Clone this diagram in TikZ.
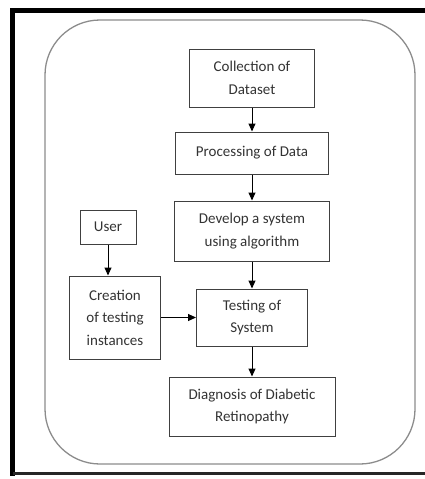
\documentclass[tikz,border=0pt]{standalone}
\usepackage{fontspec}
\setmainfont{Carlito}
\usepackage{tikz}
\usetikzlibrary{positioning}
\usetikzlibrary{arrows.meta}

\begin{document}
\begin{tikzpicture}[x=1pt, y=-1pt,
    stage/.style={draw=black!75, line width=1pt, align=center, text=black!80,
        font=\fontsize{15}{22.5}\selectfont, inner sep=2pt},
    flow/.style={line width=1pt, -{Triangle[length=8pt,width=7pt]}}]
    \useasboundingbox (0,0) rectangle (425,479);
    % frame and panel
    \draw[line width=5pt] (425,10) -- (12.5,10) -- (12.5,476);
    \draw[line width=3pt, black!85] (12.5,473) -- (425,473);
    \draw[black!45, line width=1.3pt, rounded corners=55pt] (45,20) rectangle (415,464);

    \node(collect)[stage, minimum width=125pt, minimum height=58pt] at (252,78) {Collection of\\Dataset};
    \node(process)[stage, minimum width=153pt, minimum height=42pt, below=24pt of collect] {Processing of Data};
    \node(develop)[stage, minimum width=155pt, minimum height=60pt, below=26pt of process] {Develop a system\\using algorithm};
    \node(testing)[stage, minimum width=111pt, minimum height=57pt, below=27pt of develop] {Testing of\\System};
    \node(diagnosis)[stage, minimum width=166pt, minimum height=59pt, below=30pt of testing] {Diagnosis of Diabetic\\Retinopathy};
    \node(create)[stage, minimum width=91pt, minimum height=83pt, left=35pt of testing] {Creation\\of testing\\instances};
    \node(user)[stage, minimum width=56pt, minimum height=34pt, above=31pt of create, xshift=-7pt] {User};

    \draw[flow](collect) -- (process);
    \draw[flow](process) -- (develop);
    \draw[flow](develop) -- (testing);
    \draw[flow](testing) -- (diagnosis);
    \draw[flow](user) -- (user |- create.north);
    \draw[flow](create) -- (testing);
\end{tikzpicture}
\end{document}
